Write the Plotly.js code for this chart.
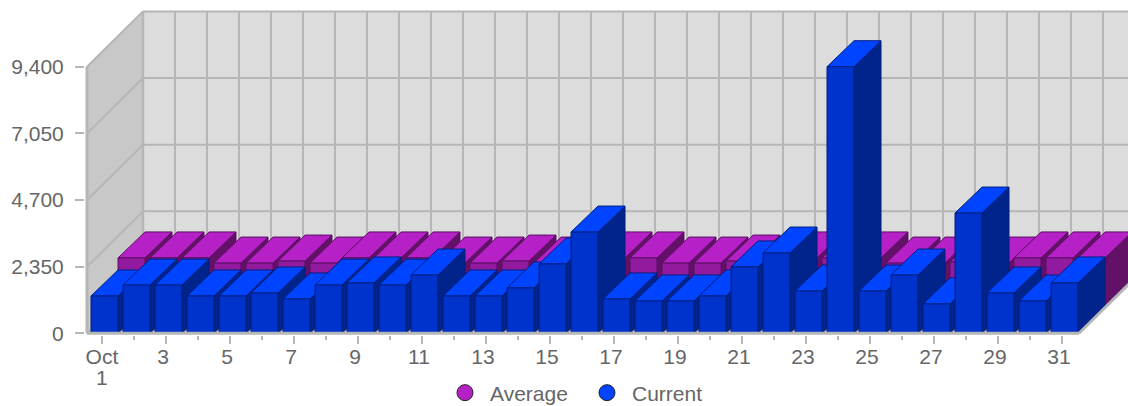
<!DOCTYPE html>
<html><head><meta charset="utf-8">
<script src="https://cdn.plot.ly/plotly-3.0.1.min.js"></script>
<style>html,body{margin:0;padding:0;background:#fff;overflow:hidden}</style>
</head><body><div id="chart" style="width:1128px;height:406px"></div>
<script>
// ---- data ----
const days = [1,2,3,4,5,6,7,8,9,10,11,12,13,14,15,16,17,18,19,20,21,22,23,24,25,26,27,28,29,30,31];
const average = [1740,1740,1740,1560,1560,1630,1560,1740,1740,1740,1560,1560,1630,1560,1630,1740,1740,1560,1560,1630,1630,1740,1740,1740,1560,1560,1600,1560,1740,1740,1740];
const current = [1315,1700,1700,1315,1315,1420,1210,1700,1775,1700,2055,1315,1315,1600,2445,3570,1210,1140,1140,1315,2340,2830,1490,9400,1490,2055,1035,4240,1420,1140,1775];
const yTicks = [0,2350,4700,7050,9400];
const xTickDays = [1,3,5,7,9,11,13,15,17,19,21,23,25,27,29,31];
const xTickText = ['\u00a0Oct','3','5','7','9','11','13','15','17','19','21','23','25','27','29','31'];
const xMinorDays = [2,4,6,8,10,12,14,16,18,20,22,24,26,28,30];

// ---- scale of the page (px per data unit) and pseudo-3D geometry ----
const PXX = 32, PXY = 266.6/9400;
const px = v => v/PXX, py = v => v/PXY;
const wallDX = px(56), wallDY = py(55.3);
const floorL = 1+(87-102)/PXX, floorR = 1+(1079-102)/PXX;
const barW = px(27), barDX = px(27), barDY = py(26);
const offBlue = px(-11), offPurple = px(16);

const gridCol = '#b6b6b6', textCol = '#666666';
const font = {family:'"Liberation Sans", Arial, sans-serif', size:21, color:textCol};
const traces = [];
function poly(xs, ys, fill, line){
  traces.push({type:'scatter', mode:'lines', x:[...xs, xs[0]], y:[...ys, ys[0]], fill:'toself', fillcolor:fill,
    line:{color:line, width:1}, hoverinfo:'skip', showlegend:false});
}
function bars(values, off, base, cols){
  values.forEach((v,i)=>{
    const l = days[i]+off, r = l+barW;
    poly([r,r+barDX,r+barDX,r],[base,base+barDY,v+base+barDY,v+base],cols.side,cols.line);
    poly([l,r,r+barDX,l+barDX],[v+base,v+base,v+base+barDY,v+base+barDY],cols.top,cols.line);
    poly([l,r,r,l],[base,base,v+base,v+base],cols.front,cols.line);
  });
}
bars(average, offPurple, barDY, {front:'#911a9e', top:'#b521c6', side:'#631166', line:'#5c0f64'});
bars(current, offBlue, 0, {front:'#0033cc', top:'#0044ff', side:'#00238c', line:'#001f80'});

traces.push({type:'scatter', mode:'markers', x:[null], y:[null], name:'Average', hoverinfo:'skip',
  marker:{symbol:'circle', size:16, color:'#b521c6', line:{color:'#222', width:1}}});
traces.push({type:'scatter', mode:'markers', x:[null], y:[null], name:'Current', hoverinfo:'skip',
  marker:{symbol:'circle', size:16, color:'#0044ff', line:{color:'#222', width:1}}});

// ---- walls, floor and grid ----
const yTop = yTicks[yTicks.length-1];
const shapes = [];
const path = pts => 'M'+pts.map(p=>p[0]+','+p[1]).join('L')+'Z';
const sh = (pts,fill)=>shapes.push({type:'path',xref:'x',yref:'y',layer:'below',path:path(pts),fillcolor:fill,line:{width:0}});
const ln = (x0,y0,x1,y1,w,layer)=>shapes.push({type:'line',xref:'x',yref:'y',layer:layer||'below',x0,y0,x1,y1,line:{color:gridCol,width:w}});
const bx = floorL+wallDX;
sh([[bx,wallDY],[34,wallDY],[34,yTop+wallDY],[bx,yTop+wallDY]],'#dcdcdc');
sh([[floorL,0],[bx,wallDY],[bx,yTop+wallDY],[floorL,yTop]],'#c8c8c8');
sh([[floorL,0],[floorR,0],[floorR+wallDX,wallDY],[bx,wallDY]],'#c8c8c8');
for(let k=0;k<32;k++) ln(bx+k,wallDY,bx+k,yTop+wallDY,k?2:2.5);
yTicks.forEach(v=>{ ln(bx,v+wallDY,34,v+wallDY,2); ln(floorL,v,bx,v+wallDY,2); });
ln(floorL,0,floorL,yTop,3,'above');
ln(floorL,0,floorR,0,3,'above');
ln(floorR,0,floorR+wallDX,wallDY,3,'above');

const layout = {
  width:1128, height:406, paper_bgcolor:'#fff', plot_bgcolor:'#fff', font,
  margin:{l:85,r:0,t:0,b:71,autoexpand:false}, hovermode:false,
  xaxis:{range:[1+(85-102)/PXX, 1+(1128-102)/PXX], showgrid:false, zeroline:false, showline:false, fixedrange:true,
    tickmode:'array', tickvals:xTickDays, ticktext:xTickText, ticks:'outside', ticklen:8, tickwidth:2, tickcolor:gridCol,
    tickfont:font, ticklabelstandoff:-5, ticklabelshift:-3, tickangle:0,
    minor:{tickmode:'array', tickvals:xMinorDays, ticks:'outside', ticklen:4, tickwidth:1.5, tickcolor:gridCol, showgrid:false}},
  yaxis:{range:[-py(1.7), py(333.3)], showgrid:false, zeroline:false, showline:false, fixedrange:true,
    tickmode:'array', tickvals:yTicks, tickformat:',d', ticks:'outside', ticklen:9, tickwidth:2, tickcolor:gridCol,
    tickfont:font, ticklabelstandoff:7},
  shapes,
  showlegend:true,
  legend:{orientation:'h', xanchor:'left', yanchor:'middle', x:(440-85)/1043, y:1-393/335, font, bgcolor:'rgba(0,0,0,0)',
    itemwidth:40, entrywidth:87, entrywidthmode:'pixels', itemclick:false, itemdoubleclick:false},
  annotations:[{xref:'x', yref:'paper', x:days[0], y:1-377/335, text:'1', showarrow:false, font, xshift:0, yanchor:'middle'}]
};
Plotly.newPlot('chart', traces, layout, {displayModeBar:false, staticPlot:true});
</script></body></html>
